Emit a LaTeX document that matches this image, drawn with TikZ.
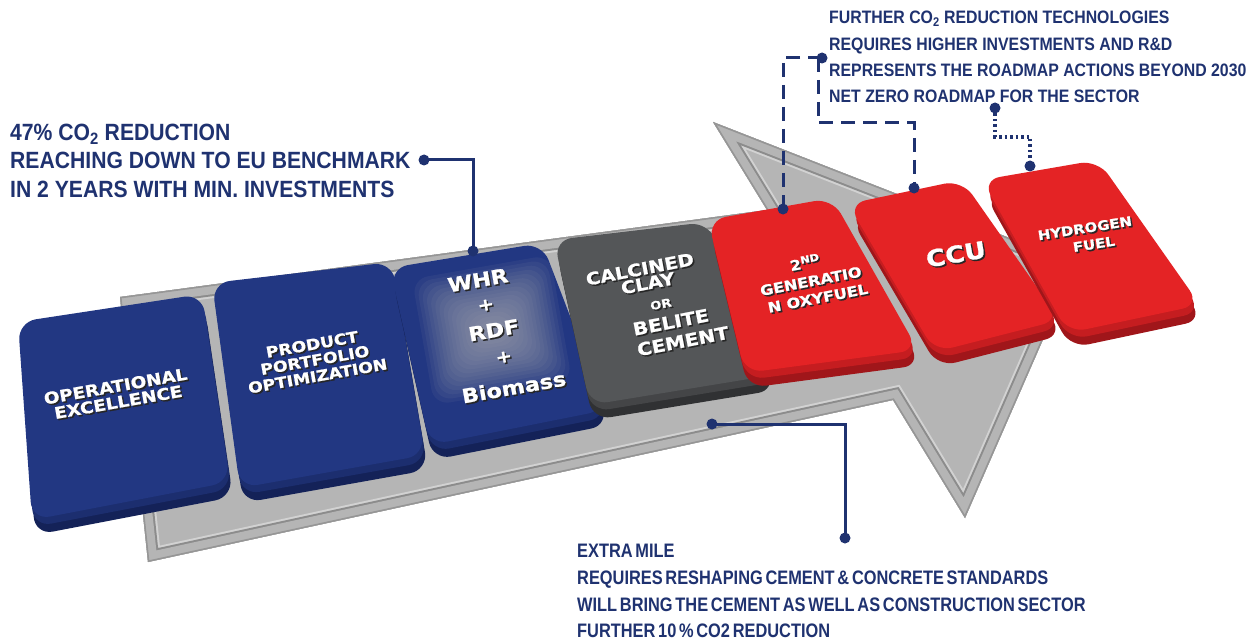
\documentclass[tikz,border=0pt]{standalone}
\usepackage{fontspec}
\usetikzlibrary{calc}
\setmainfont{Liberation Sans}
\newfontfamily\calloutfontA{Liberation Sans}[FakeStretch=0.9]
\newfontfamily\calloutfontB{Liberation Sans}[FakeStretch=0.88]
\newfontfamily\calloutfontC{Liberation Sans}[FakeStretch=0.84,WordSpace=0.6]
\newfontfamily\keyfont{DejaVu Sans}[FakeStretch=1.15,BoldFeatures={FakeBold=1}]

\definecolor{navy}{RGB}{31,50,112}
\definecolor{keyblue}{RGB}{34,55,130}
\definecolor{keyblueside}{RGB}{20,34,88}
\definecolor{keygrey}{RGB}{84,86,88}
\definecolor{keygreyside}{RGB}{48,49,51}
\definecolor{keyred}{RGB}{228,35,37}
\definecolor{keyredside}{RGB}{160,22,26}
\definecolor{arrowfill}{RGB}{181,181,181}
\definecolor{arrowgroove}{RGB}{140,140,140}
\definecolor{arrowlight}{RGB}{210,210,210}
\definecolor{arrowedge}{RGB}{150,150,150}
\definecolor{glowgrey}{RGB}{172,172,178}

% one key: top face corners TL, TR, BR, BL, face colour, side colour
\newcommand\drawkey[6]{%
  \fill[#6, rounded corners=18pt, shift={(3,15)}] #1 -- #2 -- #3 -- #4 -- cycle;
  \fill[#5!55!#6, rounded corners=18pt, shift={(1.5,7)}] #1 -- #2 -- #3 -- #4 -- cycle;
  \fill[#5, rounded corners=18pt] #1 -- #2 -- #3 -- #4 -- cycle;
}
% lettering with a dark drop shadow set underneath it
\newcommand\shadowed[1]{\leavevmode\rlap{\kern1.3pt\raisebox{-1.7pt}{\color{black!85}#1}}#1}
% one line of white key lettering: name, position, size, angle, text
\newcommand\keylabel[5]{%
  \node[keytext, rotate=#4, font=\keyfont\bfseries\fontsize{#3}{#3}\selectfont]
    (#1) at #2 {\shadowed{#5}};
}
\newcommand\arrowoutline{(120,297) -- (767,210) -- (713,122) -- (1076,264) -- (965,518) -- (893,400) -- (148,562) -- cycle}

\begin{document}
\begin{tikzpicture}[x=1pt, y=-1pt,
  keytext/.style={inner sep=0pt, text=white},
  callA/.style={anchor=base west, inner sep=0pt, text=navy,
                font=\calloutfontA\bfseries\fontsize{23.5}{28}\selectfont},
  callB/.style={anchor=base west, inner sep=0pt, text=navy,
                font=\calloutfontB\bfseries\fontsize{18}{26}\selectfont},
  callC/.style={anchor=base west, inner sep=0pt, text=navy,
                font=\calloutfontC\bfseries\fontsize{19.5}{27}\selectfont},
  conn/.style={navy, line width=3pt},
  dashconn/.style={navy, line width=3pt, dash pattern=on 14pt off 8pt},
  dotconn/.style={navy, line width=3.5pt, dash pattern=on 2.5pt off 3pt},
  dot/.style={navy}]

\fill[white] (0,0) rectangle (1257,639);
\useasboundingbox (0,0) rectangle (1257,639);

% grey roadmap arrow with an inset groove
\begin{scope}
  \clip \arrowoutline;
  \fill[arrowfill] \arrowoutline;
  \draw[arrowlight, line width=27pt] \arrowoutline;
  \draw[arrowgroove, line width=23pt] \arrowoutline;
  \draw[arrowfill, line width=19pt] \arrowoutline;
  \draw[arrowedge, line width=3pt] \arrowoutline;
\end{scope}

% keys
\drawkey{(18,322)}{(202,294)}{(230,482)}{(32,520)}{keyblue}{keyblueside}
\drawkey{(212,283)}{(392,262)}{(425,455)}{(240,488)}{keyblue}{keyblueside}
\drawkey{(390,268)}{(542,243)}{(606,410)}{(430,445)}{keyblue}{keyblueside}
\drawkey{(554,240)}{(708,222)}{(773,375)}{(590,405)}{keygrey}{keygreyside}
\drawkey{(708,220)}{(832,198)}{(918,350)}{(745,373)}{keyred}{keyredside}
\drawkey{(848,204)}{(962,180)}{(1060,320)}{(935,352)}{keyred}{keyredside}
\drawkey{(982,180)}{(1098,160)}{(1200,305)}{(1068,333)}{keyred}{keyredside}

% soft grey glow on the WHR key
\foreach \i in {0,...,15}
  \fill[glowgrey, opacity=0.075, rounded corners=16pt, rotate around={10:(492,330)}]
    ({492-70+3.6*\i},{330-64+3.6*\i}) rectangle ({492+70-3.6*\i},{330+64-3.6*\i});

% key lettering
\keylabel{opexa}{(115.6,387.1)}{16}{10}{OPERATIONAL}
\keylabel{opexb}{(118.4,402.9)}{16}{10}{EXCELLENCE}
\keylabel{ppoa}{(312.2,345.2)}{15}{10}{PRODUCT}
\keylabel{ppob}{(315,361)}{15}{10}{PORTFOLIO}
\keylabel{ppoc}{(317.8,376.8)}{15}{10}{OPTIMIZATION}
\keylabel{whr}{(478,281)}{19.5}{10}{WHR}
\keylabel{plusa}{(486,306)}{17}{10}{+}
\keylabel{rdf}{(494,331)}{19.5}{10}{RDF}
\keylabel{plusb}{(504,358)}{17}{10}{+}
\keylabel{bio}{(514,388)}{19.5}{10}{Biomass}
\keylabel{calc}{(640,270)}{17}{11}{CALCINED}
\keylabel{clay}{(648,284)}{17}{11}{CLAY}
\keylabel{or}{(661,305)}{11.5}{11}{OR}
\keylabel{bel}{(671,323)}{17.5}{11}{BELITE}
\keylabel{cem}{(683,342)}{17.5}{11}{CEMENT}
\keylabel{gena}{(805,263)}{14}{11}{2\textsuperscript{ND}}
\keylabel{genb}{(811,282)}{14}{11}{GENERATIO}
\keylabel{genc}{(818,299)}{14}{11}{N OXYFUEL}
\keylabel{ccu}{(956,255)}{23}{10}{CCU}
\keylabel{hyd}{(1085,229)}{13}{9}{HYDROGEN}
\keylabel{fuel}{(1094,245)}{13}{9}{FUEL}

% callout texts
\node[callA] (ula) at (10,141) {47\% CO\textsubscript{2} REDUCTION};
\node[callA] (ulb) at (10,169) {REACHING DOWN TO EU BENCHMARK};
\node[callA] (ulc) at (10,197) {IN 2 YEARS WITH MIN. INVESTMENTS};

\node[callB] (tra) at (829,24) {FURTHER CO\textsubscript{2} REDUCTION TECHNOLOGIES};
\node[callB] (trb) at (829,51) {REQUIRES HIGHER INVESTMENTS AND R\&D};
\node[callB] (trc) at (829,77) {REPRESENTS THE ROADMAP ACTIONS BEYOND 2030};
\node[callB] (trd) at (829,103) {NET ZERO ROADMAP FOR THE SECTOR};

\node[callC] (bma) at (577,557) {EXTRA MILE};
\node[callC] (bmb) at (577,584) {REQUIRES RESHAPING CEMENT \& CONCRETE STANDARDS};
\node[callC] (bmc) at (577,611) {WILL BRING THE CEMENT AS WELL AS CONSTRUCTION SECTOR};
\node[callC] (bmd) at (577,637) {FURTHER 10 \% CO2 REDUCTION};

% connector end points
\coordinate (benchdot) at (424,160);
\coordinate (whrdot) at (473,251);
\coordinate (calcdot) at (712,424);
\coordinate (miledot) at (845,538);
\coordinate (beyonddot) at (822,58);
\coordinate (oxydot) at (783,209);
\coordinate (ccubend) at (914,123);
\coordinate (ccudot) at (914,188);
\coordinate (netdot) at (995,108);
\coordinate (hydbend) at (1030,137);
\coordinate (hyddot) at (1030,166);

% connectors
\draw[conn] (benchdot) -| (whrdot);
\draw[conn] (calcdot) -| (miledot);
\draw[dashconn] (beyonddot) -| (oxydot);
\draw[dashconn] ([xshift=-4pt]beyonddot) |- (ccubend) -- (ccudot);
\draw[dotconn] (netdot) |- (hydbend) -- (hyddot);

\foreach \p in {benchdot,whrdot,calcdot,miledot,beyonddot,oxydot,ccudot,netdot,hyddot}
  \fill[dot] (\p) circle (5.5pt);

\end{tikzpicture}
\end{document}
